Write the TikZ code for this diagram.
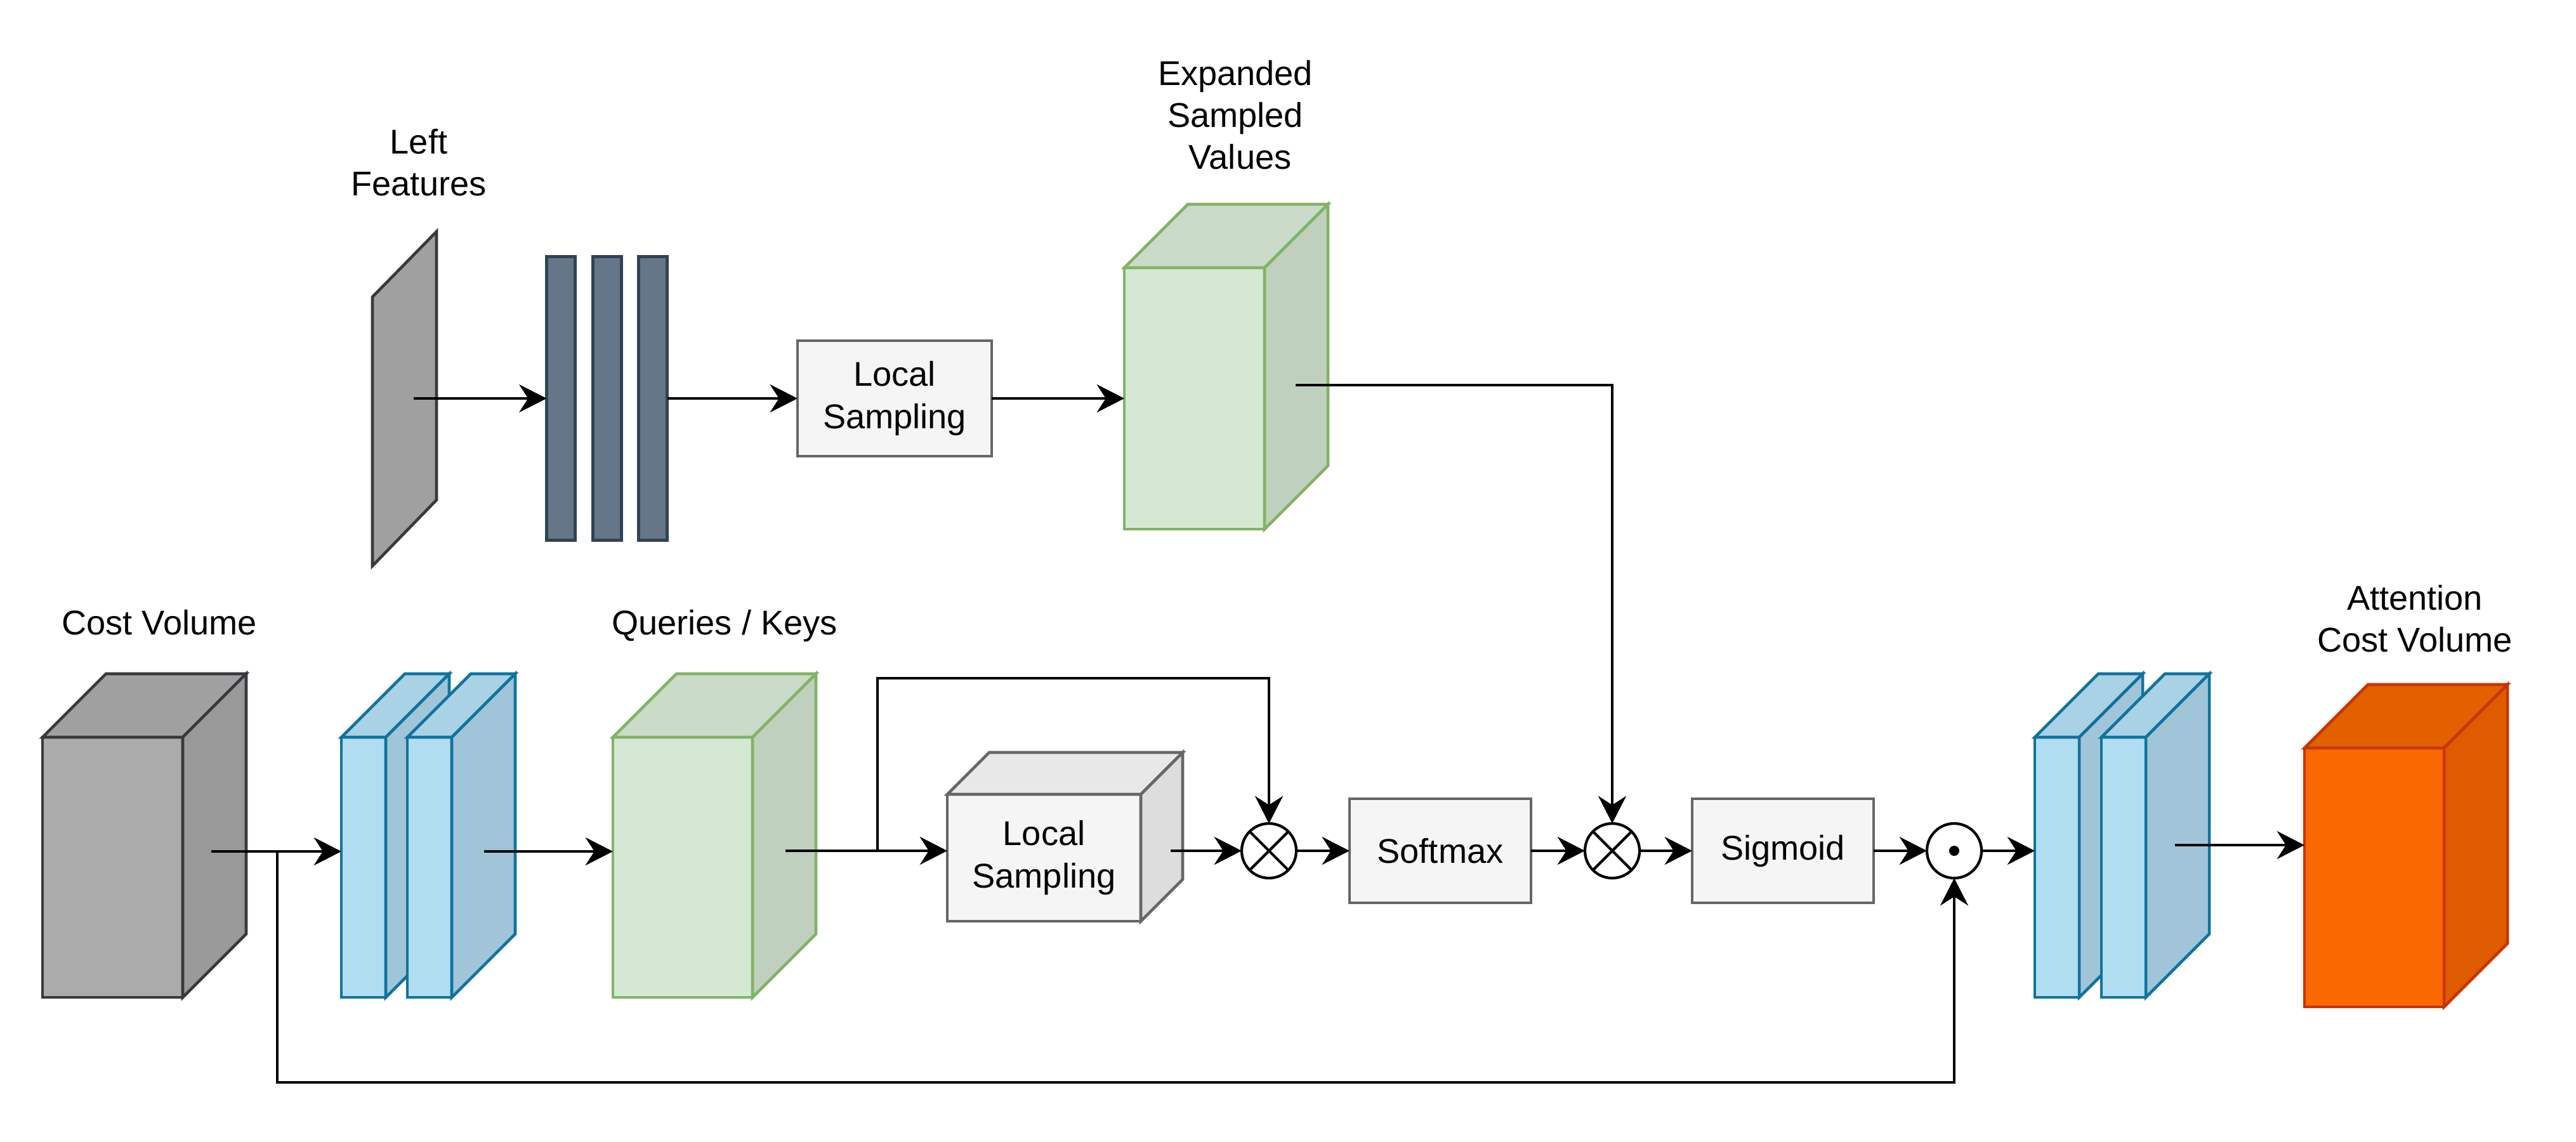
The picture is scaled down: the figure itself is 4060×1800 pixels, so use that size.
\documentclass[tikz,border=0pt]{standalone}
\usepackage{fontspec}
\setmainfont{Liberation Sans}
\usetikzlibrary{calc,arrows.meta}
\definecolor{grayF}{HTML}{ABABAB}\definecolor{grayT}{HTML}{A0A0A0}\definecolor{grayS}{HTML}{999999}\definecolor{grayL}{HTML}{36393D}
\definecolor{blueF}{HTML}{B1DDF0}\definecolor{blueT}{HTML}{A9D2E4}\definecolor{blueS}{HTML}{A0C5D8}\definecolor{blueL}{HTML}{10739E}
\definecolor{greenF}{HTML}{D5E8D4}\definecolor{greenT}{HTML}{CADBC9}\definecolor{greenS}{HTML}{BFD1BE}\definecolor{greenL}{HTML}{82B366}
\definecolor{lightF}{HTML}{F5F5F5}\definecolor{lightT}{HTML}{E8E8E8}\definecolor{lightS}{HTML}{DDDDDD}\definecolor{lightL}{HTML}{666666}
\definecolor{orangeF}{HTML}{FA6800}\definecolor{orangeT}{HTML}{E45F00}\definecolor{orangeS}{HTML}{DE5B00}\definecolor{orangeL}{HTML}{C73500}
\definecolor{barF}{HTML}{647687}\definecolor{barL}{HTML}{314354}
\tikzset{
  lw/.style={line width=1.3pt},
  cubefront/.style={lw, rectangle, inner sep=0pt, outer sep=0pt},
  cubeface/.style={lw},
  bar/.style={lw, rectangle, draw=barL, fill=barF, inner sep=0pt, outer sep=0pt, minimum width=0.45cm, minimum height=4.47cm},
  opbox/.style={lw, rectangle, draw=lightL, fill=lightF, inner sep=0pt, outer sep=0pt, align=center, font=\lbl},
  opcirc/.style={line width=1.2pt, circle, draw=black, fill=white, inner sep=0pt, outer sep=0pt, minimum size=0.86cm},
  lbl/.style={align=center, font=\lbl, inner sep=0pt},
  arr/.style={lw, -{Stealth[length=12.3pt, width=12.5pt, inset=4pt]}},
  ln/.style={lw}
}
\newcommand\lbl{\fontsize{15.4pt}{18.8pt}\selectfont}
% name, cx, cy, w(px), h(px), depth(px), colour prefix
\newcommand\mycube[7]{%
  \node[cubefront, draw=#7L, fill=#7F, minimum width=#4*0.01cm, minimum height=#5*0.01cm] (#1) at (#2,#3) {};
  \draw[cubeface, draw=#7L, fill=#7T] (#1.north west) -- ++(#6,-#6) -- ($(#1.north east)+(#6,-#6)$) -- (#1.north east) -- cycle;
  \draw[cubeface, draw=#7L, fill=#7S] (#1.north east) -- ++(#6,-#6) -- ($(#1.south east)+(#6,-#6)$) -- (#1.south east) -- cycle;
}
\begin{document}
\begin{tikzpicture}[x=0.01cm, y=-0.01cm]
\useasboundingbox (0,0) rectangle (4060,1800);

% ---------- top row ----------
\node[lbl] (lflab) at (660,256) {Left\\Features};
\draw[lw, draw=grayL, fill=grayT] (587,468) -- (688,365) -- (688,788) -- (587,892) -- cycle;
\coordinate (lfS) at (652,628);
\node[bar] (b1) at (884,628) {};
\node[bar] (b2) at (957,628) {};
\node[bar] (b3) at (1029,628) {};
\node[opbox, minimum width=3.06cm, minimum height=1.82cm] (ls1) at (1410,628) {Local\\Sampling};
\mycube{esv}{1882.5}{628}{221}{412}{100}{green}
\node[lbl] (esvlab) at (1947,181) {Expanded\\Sampled\\\ Values};

% ---------- bottom row ----------
\node[lbl] (cvlab) at (251,981) {Cost Volume};
\mycube{cv}{177.5}{1367}{221}{410}{100}{gray}
\mycube{sl1}{573}{1367}{70}{410}{100}{blue}
\mycube{sl2}{677}{1367}{70}{410}{100}{blue}
\node[lbl] (qklab) at (1142,986) {Queries / Keys};
\mycube{qk}{1076}{1367}{220}{410}{100}{green}
\mycube{ls2}{1645.5}{1352}{305}{200}{66}{light}
\node[lbl] at (ls2) {Local\\Sampling};
\node[opcirc] (m1) at (2000,1341) {};
\draw[line width=1.2pt] (m1.north east) -- (m1.south west) (m1.north west) -- (m1.south east);
\node[opbox, minimum width=2.86cm, minimum height=1.64cm] (sm) at (2270,1341) {Softmax};
\node[opcirc] (m2) at (2541,1341) {};
\draw[line width=1.2pt] (m2.north east) -- (m2.south west) (m2.north west) -- (m2.south east);
\node[opbox, minimum width=2.86cm, minimum height=1.64cm] (sg) at (2810,1341) {Sigmoid};
\node[opcirc] (od) at (3080,1341) {};
\fill (od.center) circle (0.08cm);
\mycube{sr1}{3242}{1367}{70}{410}{100}{blue}
\mycube{sr2}{3347}{1367}{70}{410}{100}{blue}
\mycube{oc}{3742}{1383}{220}{408}{100}{orange}
\node[lbl] (oclab) at (3806,975) {Attention\\Cost Volume};

% ---------- connectors ----------
\coordinate (cvS) at (333,1342);
\coordinate (brA) at (437,1342);
\coordinate (bot) at (437,1706);
\coordinate (slS) at (763,1342);
\coordinate (qkS) at (1238,1341);
\coordinate (brB) at (1383,1341);
\coordinate (topB) at (1383,1069);
\coordinate (lsS) at (1845,1341);
\coordinate (esS) at (2042,607);
\coordinate (srS) at (3428,1332);

\draw[arr] (lfS) -- (b1.west);
\draw[arr] (b3.east) -- (ls1.west);
\draw[arr] (ls1.east) -- (esv.west);
\draw[arr] (esS) -| (m2.north);

\draw[arr] (cvS) -- (cvS -| sl1.west);
\draw[arr] (brA) -- (bot) -| (od.south);
\draw[arr] (slS) -- (slS -| qk.west);
\draw[arr] (qkS) -- (qkS -| ls2.west);
\draw[arr] (brB) -- (topB) -| (m1.north);
\draw[arr] (lsS) -- (m1.west);
\draw[arr] (m1.east) -- (sm.west);
\draw[arr] (sm.east) -- (m2.west);
\draw[arr] (m2.east) -- (sg.west);
\draw[arr] (sg.east) -- (od.west);
\draw[arr] (od.east) -- (od.east -| sr1.west);
\draw[arr] (srS) -- (srS -| oc.west);
\end{tikzpicture}
\end{document}
